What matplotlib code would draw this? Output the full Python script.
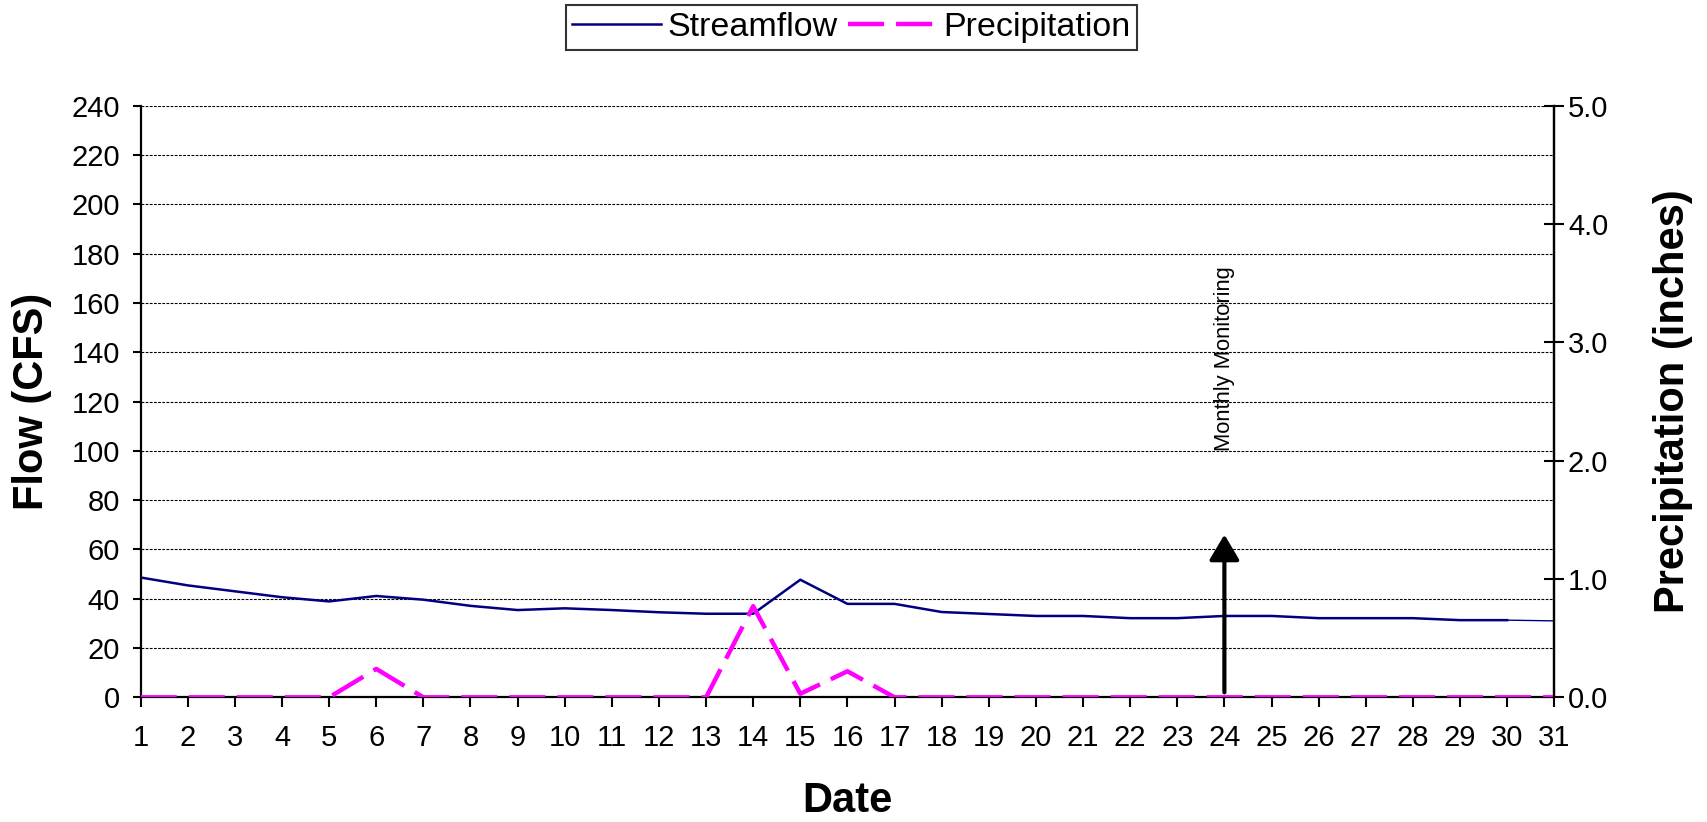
import numpy as np
import matplotlib
matplotlib.use("Agg")
import matplotlib.pyplot as plt

plt.rcParams['font.family'] = ['Liberation Sans', 'DejaVu Sans']
plt.rcParams['lines.scale_dashes'] = False

# daily values for the month
days = list(range(1, 32))
flow = [48.6, 45.4, 43.0, 40.6, 38.9, 41.1, 39.6, 37.1, 35.4, 36.1,
        35.4, 34.5, 33.9, 33.9, 47.7, 37.9, 37.9, 34.6, 33.8, 33.0,
        33.0, 32.1, 32.1, 33.0, 33.0, 32.1, 32.1, 32.1, 31.3, 31.3,
        31.0]
precip = [0.0, 0.0, 0.0, 0.0, 0.0, 0.24, 0.0, 0.0, 0.0, 0.0,
          0.0, 0.0, 0.0, 0.77, 0.03, 0.22, 0.0, 0.0, 0.0, 0.0,
          0.0, 0.0, 0.0, 0.0, 0.0, 0.0, 0.0, 0.0, 0.0, 0.0,
          0.0]
flow_ticks = list(range(0, 241, 20))
precip_ticks = [0.0, 1.0, 2.0, 3.0, 4.0, 5.0]

# monitoring marker
mon_day = 24
mon_from = 2
mon_to = 66
mon_text_at = 100
mon_label = "Monthly Monitoring"

fig = plt.figure(figsize=(17.07, 8.22), dpi=100)
ax = fig.add_axes([0.0824, 0.1517, 0.9105 - 0.0824, 0.8714 - 0.1517])
ax2 = ax.twinx()

navy = '#000080'
magenta = '#FF00FF'

# streamflow (last segment drawn thinner, as in the original)
l1, = ax.plot(days[:30], flow[:30], color=navy, lw=1.8, label='Streamflow')
ax.plot(days[29:], flow[29:], color=navy, lw=1.0)

l2, = ax2.plot(days, precip, color=magenta, lw=3.2, dashes=(26, 8.6),
               label='Precipitation', solid_capstyle='butt', dash_capstyle='butt')

ax.set_xlim(1, 31)
ax.set_ylim(0, 240)
ax2.set_ylim(0, 5)
ax.set_xticks(days)
ax.set_yticks(flow_ticks)
ax2.set_yticks(precip_ticks)
ax2.set_yticklabels([f"{v:.1f}" for v in precip_ticks])

ax.grid(axis='y', color='black', lw=0.8, linestyle=(0, (2, 1)))
ax.set_axisbelow(True)

for a in (ax, ax2):
    a.spines['top'].set_visible(False)
    for s in a.spines.values():
        s.set_linewidth(1.6)
ax2.spines['left'].set_visible(False)
ax2.spines['bottom'].set_visible(False)

ax.tick_params(axis='x', direction='out', length=7.2, width=1.5, labelsize=21, pad=12)
ax.tick_params(axis='y', direction='out', length=5.8, width=1.5, labelsize=21, pad=9)
ax2.tick_params(axis='y', direction='inout', length=13.7, width=1.5, labelsize=21, pad=3)

ax.set_xlabel('Date', fontsize=30, fontweight='bold', va='center')
ax.set_ylabel('Flow (CFS)', fontsize=30, fontweight='bold', va='center')
ax2.set_ylabel('Precipitation (inches)', fontsize=30, fontweight='bold', va='center')
ax.xaxis.set_label_coords(0.5, -0.1748)
ax.yaxis.set_label_coords(-0.0771, 0.5)
ax2.yaxis.set_label_coords(1.084, 0.5)

ax.annotate('', xy=(mon_day, mon_to), xytext=(mon_day, mon_from),
            arrowprops=dict(arrowstyle='-|>,head_width=0.92,head_length=1.55',
                            mutation_scale=10, lw=3, color='black',
                            shrinkA=0, shrinkB=0))
ax.text(mon_day, mon_text_at, mon_label, rotation=90, ha='center', va='bottom',
        fontsize=15.8)

leg = fig.legend(handles=[l1, l2], loc='center', bbox_to_anchor=(0.4988, 0.9665),
                 ncol=2, fontsize=24.5, frameon=True, fancybox=False,
                 handlelength=2.6, handletextpad=0.2, columnspacing=0.3,
                 borderpad=0.2, borderaxespad=0)
leg.get_frame().set_edgecolor('black')
leg.get_frame().set_linewidth(1.5)

fig.savefig('out.png', dpi=100)
